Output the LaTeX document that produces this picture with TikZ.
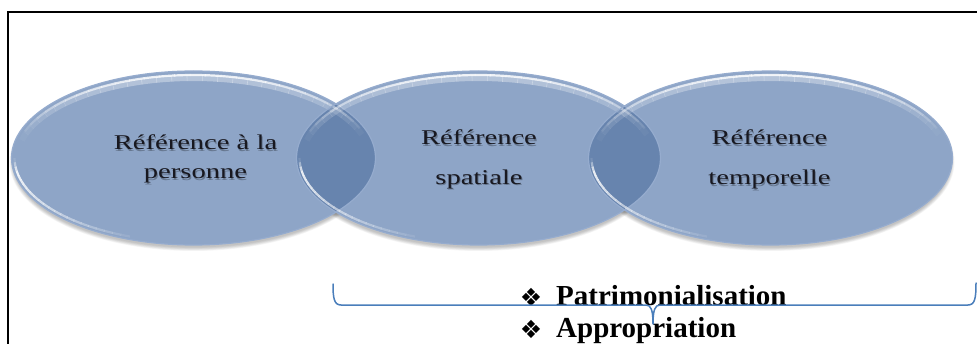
\documentclass[tikz,border=0pt]{standalone}
\usepackage{fontspec}
\setmainfont{Liberation Serif}
\newfontfamily\bulletfont{DejaVu Sans}
\usetikzlibrary{calc}

\definecolor{ovbody}{RGB}{142,165,199}
\definecolor{ovdark}{RGB}{103,132,174}
\definecolor{ovrim}{RGB}{150,172,206}
\definecolor{bracecol}{RGB}{74,126,187}
\definecolor{labelcol}{RGB}{24,24,32}

\tikzset{
  ovaltext/.style={font=\fontsize{21}{25}\selectfont, text=labelcol,
    inner sep=0pt, anchor=base, xscale=1.36},
  ovalshade/.style={ovaltext, text=black, opacity=0.28},
  boldlabel/.style={font=\bfseries\fontsize{29}{33}\selectfont,
    inner sep=0pt, anchor=base west},
  bulletmark/.style={font=\bulletfont\fontsize{25}{25}\selectfont, inner sep=0pt,
    anchor=center},
  bracestroke/.style={draw=bracecol, line width=1.5pt, line cap=round, line join=round},
}

% oval label with a soft drop shadow
\newcommand\ovallabel[4]{%
  \node[ovalshade] at (#2+1,#3-1.4) {#4};
  \node[ovaltext] (#1) at (#2,#3) {#4};
}

% glossy highlights of one oval
\newcommand\ovalgloss[1]{%
  \draw[ovrim, line width=1.2pt] (#1) ellipse [x radius=\rx, y radius=\ry];
  % broad soft band along the top
  \foreach \a in {12,17,...,162}{%
    \pgfmathsetmacro\op{0.35*sin((\a-12)/155*180)}%
    \draw[white, line width=6pt, opacity=\op]
      ($(#1)+({\ixs*cos(\a)},{\iys*sin(\a)})$)
      arc[start angle=\a, end angle=\a+5.2, x radius=\ixs, y radius=\iys];
  }
  % bright core of the top band
  \foreach \a in {16,21,...,156}{%
    \pgfmathsetmacro\op{0.85*sin((\a-16)/145*180)}%
    \draw[white, line width=2.2pt, opacity=\op]
      ($(#1)+({\ixa*cos(\a)},{\iya*sin(\a)})$)
      arc[start angle=\a, end angle=\a+5.2, x radius=\ixa, y radius=\iya];
  }
  % bright streak along the lower left
  \foreach \a in {180,183,...,246}{%
    \pgfmathsetmacro\op{0.95*min(1,(\a-179)/9)*((250-\a)/70)^0.8}%
    \draw[white, line width=2.2pt, opacity=\op]
      ($(#1)+({\ixb*cos(\a)},{\iyb*sin(\a)})$)
      arc[start angle=\a, end angle=\a+3.2, x radius=\ixb, y radius=\iyb];
  }
}

\begin{document}
\begin{tikzpicture}[x=1pt,y=1pt]
\useasboundingbox (0,0) rectangle (977,343);
\fill[white] (0,0) rectangle (977,343);

% page frame
\begin{scope}
  \clip (0,0) rectangle (977,343);
  \draw[line width=1.3pt] (8,-5) -- (8,331) -- (990,331);
\end{scope}

\def\rx{182}
\def\ry{87}
\def\ixa{178}
\def\iya{83}
\def\ixs{176}
\def\iys{80}
\def\ixb{179}
\def\iyb{84}

\coordinate (c1) at (193.5,185);
\coordinate (c2) at (478.5,185);
\coordinate (c3) at (770.5,185);

% soft shadows under the ovals
\foreach \c in {c1,c2,c3}{
  \foreach \k in {0,...,6}{
    \fill[black, opacity=0.035] ($(\c)+(0,-4)$)
      ellipse [x radius=\rx+2-\k*0.6, y radius=\ry+2-\k*0.6];
  }
}

% oval bodies
\foreach \c in {c1,c2,c3}{
  \fill[ovbody] (\c) ellipse [x radius=\rx, y radius=\ry];
}

% overlapping parts
\begin{scope}
  \clip (c1) ellipse [x radius=\rx, y radius=\ry];
  \fill[ovdark] (c2) ellipse [x radius=\rx, y radius=\ry];
\end{scope}
\begin{scope}
  \clip (c2) ellipse [x radius=\rx, y radius=\ry];
  \fill[ovdark] (c3) ellipse [x radius=\rx, y radius=\ry];
\end{scope}

% glossy rims
\ovalgloss{c1}
\ovalgloss{c2}
\ovalgloss{c3}

% oval texts
\ovallabel{t1a}{195.5}{193}{Référence à la}
\ovallabel{t1b}{195.5}{164}{personne}
\ovallabel{t2a}{479}{198}{Référence}
\ovallabel{t2b}{479}{158.5}{spatiale}
\ovallabel{t3a}{769.5}{198}{Référence}
\ovallabel{t3b}{769.5}{158}{temporelle}

% bullet list
\node[bulletmark] (m1) at (531,46) {❖};
\node[boldlabel] (patr) at (556,38) {Patrimonialisation};
\node[bulletmark] (m2) at (531,14) {❖};
\node[boldlabel] (appr) at (556,6) {Appropriation};

% brace
\coordinate (bl) at (333,59);
\coordinate (bt) at (653,19);
\coordinate (br) at (976,60);
\draw[bracestroke] (bl) .. controls (333,45) and (334,38) .. (341,38)
  -- (646,38) .. controls (651,38) and (653,33) .. (bt)
  .. controls (653,33) and (655,38) .. (660,38)
  -- (968,38) .. controls (975,38) and (976,45) .. (br);
\end{tikzpicture}
\end{document}
